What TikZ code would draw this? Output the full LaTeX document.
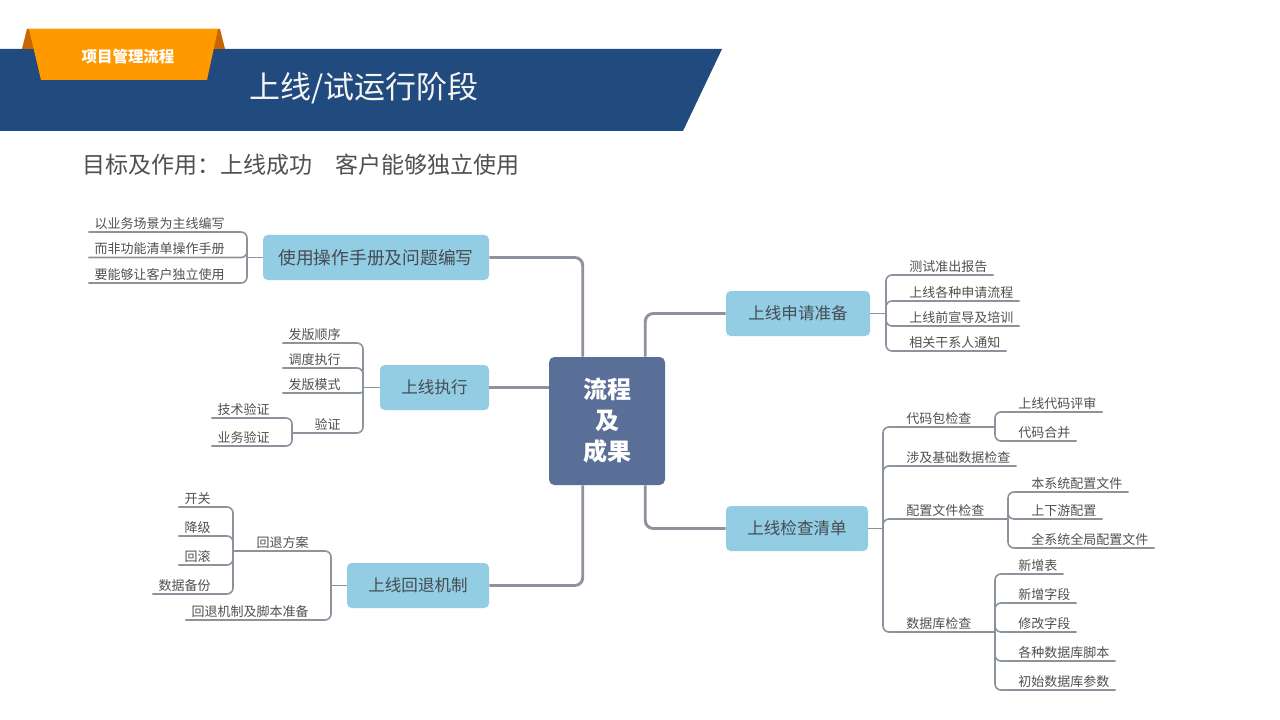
\documentclass[tikz,border=0pt]{standalone}
\usepackage{fontspec}
\setmainfont{Noto Sans CJK SC}
\definecolor{banner}{HTML}{214A7E}
\definecolor{orng}{HTML}{FE9A00}
\definecolor{dorng}{HTML}{C96500}
\definecolor{central}{HTML}{596F98}
\definecolor{boxc}{HTML}{93CDE3}
\definecolor{lc}{HTML}{8C939C}
\definecolor{txt}{HTML}{505050}
\definecolor{btxt}{HTML}{454B52}
\begin{document}
\begin{tikzpicture}[x=0.75pt,y=-0.75pt,
  mainln/.style={draw=lc,line width=2.2pt,rounded corners=6pt},
  lnk/.style={draw=lc,line width=1.2pt,rounded corners=4.5pt},
  mbox/.style={fill=boxc,rounded corners=3.5pt,minimum height=33.75pt,inner sep=0pt,text=btxt,font=\fontsize{12.4}{14}\selectfont},
  leafR/.style={anchor=south west,inner xsep=4.5pt,inner ysep=1.6pt,text=txt,font=\fontsize{9.75}{11}\selectfont},
  leafL/.style={anchor=south east,inner xsep=4.5pt,inner ysep=1.6pt,text=txt,font=\fontsize{9.75}{11}\selectfont}]
\useasboundingbox (0,0) rectangle (1280,720);
\fill[white] (0,0) rectangle (1280,720);
% header
\fill[banner] (0,49) -- (722,49) -- (683,131) -- (0,131) -- cycle;
\fill[dorng] (22,49) -- (27,29) -- (220,29) -- (225,49) -- cycle;
\fill[orng] (29,29) -- (218,29) -- (207,80) -- (41,80) -- cycle;
\node[text=white,font=\fontsize{11.6}{13}\selectfont\bfseries] (tab) at (128,57) {项目管理流程};
\node[text=white!92!gray,font=\fontsize{23.25}{26}\selectfont] (title) at (364,88) {上线/试运行阶段};
\node[anchor=west,inner sep=0pt,text=txt,font=\fontsize{17.25}{20}\selectfont] (sub) at (82,165) {目标及作用：上线成功　客户能够独立使用};
% central
\node[fill=central,rounded corners=4pt,minimum width=87pt,minimum height=96pt,text=white,align=center,
  font=\fontsize{18}{23.25}\selectfont\bfseries] (c) at (607,421) {流程\\及\\成果};
% main boxes
\node[mbox,minimum width=169.5pt,font=\fontsize{13.3}{15}\selectfont] (b1) at (376,257.5) {使用操作手册及问题编写};
\node[mbox,minimum width=81.75pt] (b2) at (434.5,387.5) {上线执行};
\node[mbox,minimum width=106.5pt] (b3) at (418,585.5) {上线回退机制};
\node[mbox,minimum width=108pt] (b4) at (798,313.5) {上线申请准备};
\node[mbox,minimum width=106.5pt] (b5) at (797,528.5) {上线检查清单};
% main connectors
\draw[mainln] (c.north west) ++(34,0) |- (b1.east);
\draw[mainln] (c.west |- b2.east) -- (b2.east);
\draw[mainln] (c.south west) ++(34,0) |- (b3.east);
\draw[mainln] (c.north east) ++(-20,0) |- (b4.west);
\draw[mainln] (c.south east) ++(-20,0) |- (b5.west);
% ---- group 1
\coordinate (j1) at (247,257.5);
\draw[lnk] (b1.west) -- (j1);
\node[leafL] (l11) at (231,232) {以业务场景为主线编写};
\node[leafL] (l12) at (231,257.5) {而非功能清单操作手册};
\node[leafL] (l13) at (231,283) {要能够让客户独立使用};
\foreach \n in {l11,l12,l13} \draw[lnk] (j1) |- (\n.south east) -- (\n.south west);
% ---- group 2
\coordinate (j2) at (363,387.5);
\draw[lnk] (b2.west) -- (j2);
\node[leafL] (l21) at (347,343) {发版顺序};
\node[leafL] (l22) at (347,368) {调度执行};
\node[leafL] (l23) at (347,393) {发版模式};
\node[leafL] (l24) at (347,433) {验证};
\foreach \n in {l21,l22} \draw[lnk] (j2) |- (\n.south east) -- (\n.south west);
\draw[lnk,rounded corners=2pt] (j2) |- (l23.south east) -- (l23.south west);
\coordinate (sj2) at (292,433);
\draw[lnk] (j2) |- (l24.south east) -- (sj2);
\node[leafL] (l25) at (276,418) {技术验证};
\node[leafL] (l26) at (276,446) {业务验证};
\foreach \n in {l25,l26} \draw[lnk] (sj2) |- (\n.south east) -- (\n.south west);
% ---- group 3
\coordinate (j3) at (331,585.5);
\draw[lnk] (b3.west) -- (j3);
\node[leafL] (l31) at (315,551) {回退方案};
\node[leafL] (l32) at (315,620) {回退机制及脚本准备};
\coordinate (sj3) at (233,551);
\draw[lnk] (j3) |- (l31.south east) -- (sj3);
\draw[lnk] (j3) |- (l32.south east) -- (l32.south west);
\node[leafL] (l33) at (217,507) {开关};
\node[leafL] (l34) at (217,536) {降级};
\node[leafL] (l35) at (217,565) {回滚};
\node[leafL] (l36) at (217,594) {数据备份};
\foreach \n in {l33,l34,l35,l36} \draw[lnk] (sj3) |- (\n.south east) -- (\n.south west);
% ---- group 4
\coordinate (j4) at (886,313.5);
\draw[lnk] (b4.east) -- (j4);
\node[leafR] (l41) at (903,275) {测试准出报告};
\node[leafR] (l42) at (903,301) {上线各种申请流程};
\node[leafR] (l43) at (903,326) {上线前宣导及培训};
\node[leafR] (l44) at (903,351) {相关干系人通知};
\foreach \n in {l41,l42,l43,l44} \draw[lnk] (j4) |- (\n.south west) -- (\n.south east);
% ---- group 5
\coordinate (j5) at (883,528.5);
\draw[lnk] (b5.east) -- (j5);
\node[leafR] (l51) at (900,427) {代码包检查};
\node[leafR] (l52) at (900,466) {涉及基础数据检查};
\node[leafR] (l53) at (900,519) {配置文件检查};
\node[leafR] (l54) at (900,632) {数据库检查};
\coordinate (sj51) at (995,427);
\coordinate (sj53) at (1008,519);
\coordinate (sj54) at (995,632);
\draw[lnk] (j5) |- (l51.south west) -- (sj51);
\draw[lnk] (j5) |- (l52.south west) -- (l52.south east);
\draw[lnk] (j5) |- (l53.south west) -- (sj53);
\draw[lnk] (j5) |- (l54.south west) -- (sj54);
\node[leafR] (m1) at (1012,412) {上线代码评审};
\node[leafR] (m2) at (1012,441) {代码合并};
\foreach \n in {m1,m2} \draw[lnk] (sj51) |- (\n.south west) -- (\n.south east);
\node[leafR] (m3) at (1025,492) {本系统配置文件};
\node[leafR] (m4) at (1025,519) {上下游配置};
\node[leafR] (m5) at (1025,548) {全系统全局配置文件};
\foreach \n in {m3,m4,m5} \draw[lnk] (sj53) |- (\n.south west) -- (\n.south east);
\node[leafR] (m6) at (1012,574) {新增表};
\node[leafR] (m7) at (1012,603) {新增字段};
\node[leafR] (m8) at (1012,632) {修改字段};
\node[leafR] (m9) at (1012,661) {各种数据库脚本};
\node[leafR] (m10) at (1012,690) {初始数据库参数};
\foreach \n in {m6,m7,m8,m9,m10} \draw[lnk] (sj54) |- (\n.south west) -- (\n.south east);
\end{tikzpicture}
\end{document}
